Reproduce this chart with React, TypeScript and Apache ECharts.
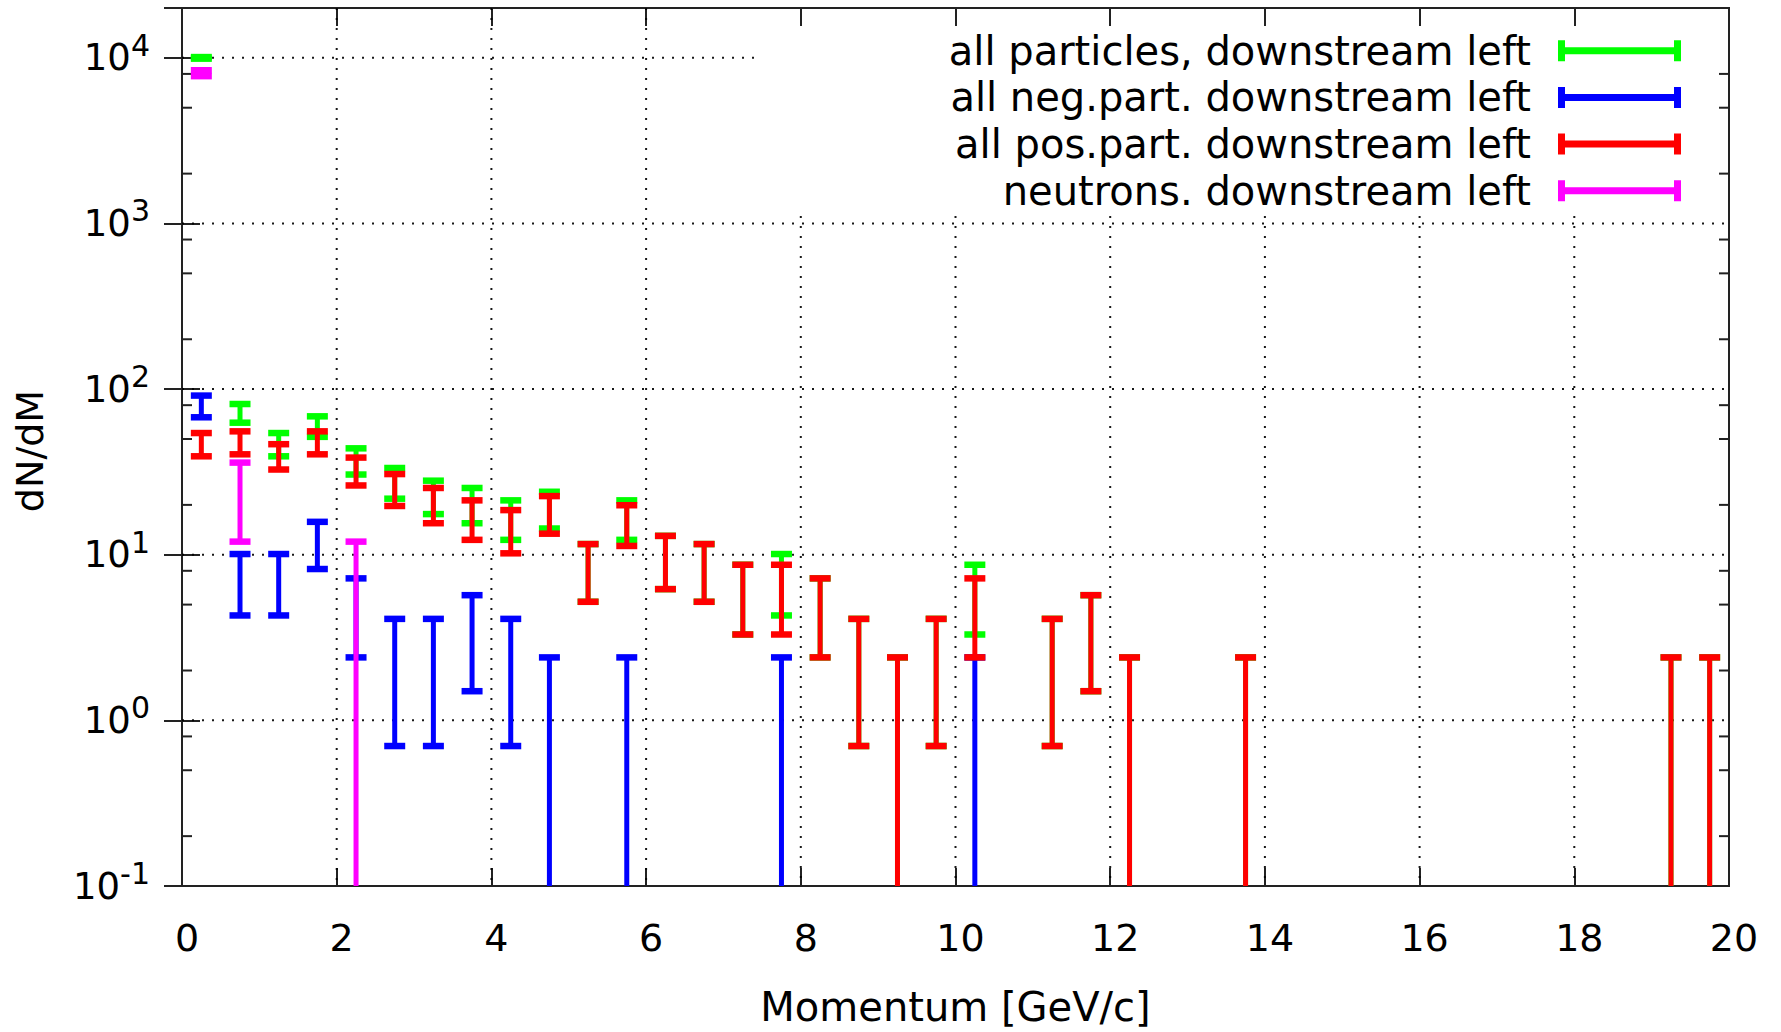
import React, { useEffect, useRef } from "react";
import * as echarts from "echarts";

const FONT = "DejaVu Sans";

// axis ranges and ticks
const X_MIN = 0;
const X_MAX = 20;
const X_STEP = 2;
const Y_MIN = 0.1;
const Y_MAX = 20000;
const gridX = [2, 4, 6, 8, 10, 12, 14, 16, 18];
const gridY = [1, 10, 100, 1000, 10000];
const minorY = [0.2, 0.5, 0.8, 2, 5, 8, 20, 50, 80, 200, 500, 800, 2000, 5000, 8000];

const seriesNames = [
  "all particles, downstream left",
  "all neg.part. downstream left",
  "all pos.part. downstream left",
  "neutrons. downstream left",
];
const seriesColors = ["#00ff00", "#0000ff", "#ff0000", "#ff00ff"];

// all particles
const allX = [0.25, 0.75, 1.25, 1.75, 2.25, 2.75, 3.25, 3.75, 4.25, 4.75, 5.25, 5.75, 6.25, 6.75, 7.25, 7.75, 8.25, 8.75, 9.25, 9.75, 10.25, 11.25, 11.75, 12.25, 13.75, 19.25, 19.75];
const allY = [10000, 72, 46.8, 60, 37.2, 27.6, 22.8, 20.4, 16.8, 19.2, 8.4, 16.8, 9.6, 8.4, 6, 7.2, 4.8, 2.4, 1.2, 2.4, 6, 2.4, 3.6, 1.2, 1.2, 1.2, 1.2];
const allErr = [110, 9.3, 7.5, 8.5, 6.7, 5.8, 5.2, 4.9, 4.5, 4.8, 3.2, 4.5, 3.4, 3.2, 2.7, 2.9, 2.4, 1.7, 1.2, 1.7, 2.7, 1.7, 2.1, 1.2, 1.2, 1.2, 1.2];

// negative particles
const negX = [0.25, 0.75, 1.25, 1.75, 2.25, 2.75, 3.25, 3.75, 4.25, 4.75, 5.75, 7.75, 10.25];
const negY = [79.5, 7.2, 7.2, 12, 4.8, 2.4, 2.4, 3.6, 2.4, 1.2, 1.2, 1.2, 1.2];
const negErr = [11.9, 2.9, 2.9, 3.8, 2.4, 1.7, 1.7, 2.1, 1.7, 1.2, 1.2, 1.2, 1.2];

// positive particles
const posX = [0.25, 0.75, 1.25, 1.75, 2.25, 2.75, 3.25, 3.75, 4.25, 4.75, 5.25, 5.75, 6.25, 6.75, 7.25, 7.75, 8.25, 8.75, 9.25, 9.75, 10.25, 11.25, 11.75, 12.25, 13.75, 19.25, 19.75];
const posY = [46.8, 48, 39.6, 48, 32.4, 25.2, 20.4, 16.8, 14.4, 18, 8.4, 15.6, 9.6, 8.4, 6, 6, 4.8, 2.4, 1.2, 2.4, 4.8, 2.4, 3.6, 1.2, 1.2, 1.2, 1.2];
const posErr = [7.5, 7.6, 6.9, 7.6, 6.2, 5.5, 4.9, 4.5, 4.2, 4.6, 3.2, 4.3, 3.4, 3.2, 2.7, 2.7, 2.4, 1.7, 1.2, 1.7, 2.4, 1.7, 2.1, 1.2, 1.2, 1.2, 1.2];

// neutrons
const neuX = [0.25, 0.75, 2.25];
const neuY = [8085, 24, 6];
const neuErr = [330, 12, 6];

const seriesData = [
  [allX, allY, allErr],
  [negX, negY, negErr],
  [posX, posY, posErr],
  [neuX, neuY, neuErr],
];

// layout (pixels)
const KEY_LEFT = 761;
const KEY_BOTTOM = 216;
const CAP = 10.5;

const AXIS_COLOR = "#222";

function supLabel(v: number): string {
  const e = Math.round(Math.log10(v));
  if (Math.abs(v / Math.pow(10, e) - 1) > 1e-6) return "";
  return "{b|10}{s|" + e + "}";
}

function errorBarRenderer(color: string) {
  return (params: any, api: any) => {
    const x = api.value(0);
    const y = api.value(1);
    const e = api.value(2);
    const hi = y + e;
    const loRaw = y - e;
    const clipped = loRaw <= Y_MIN;
    const lo = clipped ? Y_MIN : loRaw;
    const pt = api.coord([x, hi]);
    const pb = api.coord([x, lo]);
    const children: any[] = [
      { type: "line", shape: { x1: pt[0], y1: pt[1], x2: pb[0], y2: pb[1] }, style: { stroke: color, lineWidth: 5 } },
      { type: "line", shape: { x1: pt[0] - CAP, y1: pt[1], x2: pt[0] + CAP, y2: pt[1] }, style: { stroke: color, lineWidth: 6.5 } },
    ];
    if (!clipped) {
      children.push({ type: "line", shape: { x1: pb[0] - CAP, y1: pb[1], x2: pb[0] + CAP, y2: pb[1] }, style: { stroke: color, lineWidth: 6.5 } });
    }
    return { type: "group", children };
  };
}

const gridStyle = { stroke: "#000", lineWidth: 2, lineDash: [2, 8], opacity: 0.9 };

export default function App() {
  const ref = useRef<HTMLDivElement>(null);
  useEffect(() => {
    if (!ref.current) return;
    const chart = echarts.init(ref.current, undefined, { renderer: "svg" });

    const errSeries = seriesNames.map((name, i) => {
      const [xs, ys, es] = seriesData[i];
      return {
        name,
        type: "custom",
        coordinateSystem: "cartesian2d",
        xAxisIndex: 0,
        yAxisIndex: 0,
        z: 3 + i,
        itemStyle: { color: seriesColors[i] },
        renderItem: errorBarRenderer(seriesColors[i]),
        data: xs.map((x, k) => [x, ys[k], es[k]]),
      };
    });

    const option: any = {
      animation: false,
      backgroundColor: "#fff",
      textStyle: { fontFamily: FONT, color: "#000" },
      grid: {
        left: 182,
        right: 52,
        top: 8,
        bottom: 140,
        show: true,
        borderColor: AXIS_COLOR,
        borderWidth: 2,
        backgroundColor: "transparent",
      },
      legend: {
        orient: "vertical",
        align: "right",
        right: 100,
        top: 30.7,
        padding: 0,
        itemGap: 6.7,
        itemWidth: 123,
        itemHeight: 21,
        symbolKeepAspect: false,
        selectedMode: false,
        textStyle: { fontSize: 40, fontFamily: FONT, color: "#000", lineHeight: 40, padding: [0, 22, 0, 0] },
        data: seriesNames.map((n) => ({ name: n, icon: "path://M0,0h7v7h109v-7h7v21h-7v-7h-109v7h-7z" })),
      },
      xAxis: [
        {
          type: "value",
          position: "bottom",
          min: X_MIN,
          max: X_MAX,
          interval: X_STEP,
          axisLine: { show: false },
          axisTick: { show: true, inside: true, length: 18, lineStyle: { color: AXIS_COLOR, width: 2 } },
          splitLine: { show: false },
          axisLabel: { fontSize: 38, fontFamily: FONT, color: "#000", margin: 33, padding: [0, 0, 0, 10] },
          name: "Momentum [GeV/c]",
          nameLocation: "middle",
          nameGap: 101,
          nameTextStyle: { fontSize: 40, fontFamily: FONT, color: "#000" },
        },
        {
          type: "value",
          position: "top",
          min: X_MIN,
          max: X_MAX,
          interval: X_STEP,
          axisLine: { show: false },
          axisTick: { show: true, inside: true, length: 18, lineStyle: { color: AXIS_COLOR, width: 2 } },
          splitLine: { show: false },
          axisLabel: { show: false },
        },
      ],
      yAxis: [
        {
          type: "log",
          logBase: 10,
          position: "left",
          min: Y_MIN,
          max: Y_MAX,
          axisLine: { show: false },
          axisTick: { show: true, inside: true, length: 18, lineStyle: { color: AXIS_COLOR, width: 2 } },
          splitLine: { show: false },
          axisLabel: {
            margin: 32,
            formatter: supLabel,
            rich: {
              b: { fontSize: 37, fontFamily: FONT, color: "#000" },
              s: { fontSize: 30, fontFamily: FONT, color: "#000", padding: [0, 0, 25, 0] },
            },
          },
        },
        {
          type: "log",
          logBase: 10,
          position: "right",
          min: Y_MIN,
          max: Y_MAX,
          axisLine: { show: false },
          axisTick: { show: true, inside: true, length: 18, lineStyle: { color: AXIS_COLOR, width: 2 } },
          splitLine: { show: false },
          axisLabel: { show: false },
        },
      ],
      graphic: [
        {
          type: "text",
          x: 30,
          y: 451,
          rotation: Math.PI / 2,
          style: { text: "dN/dM", fontSize: 38, fontFamily: FONT, fill: "#000", align: "center", verticalAlign: "middle" },
        },
      ],
      series: [
        {
          name: "vgrid",
          type: "custom",
          coordinateSystem: "cartesian2d",
          z: 1,
          silent: true,
          renderItem: (params: any, api: any) => {
            const cs = params.coordSys;
            const x = api.coord([api.value(0), 1])[0];
            const y0 = x > KEY_LEFT ? KEY_BOTTOM : cs.y;
            return { type: "line", shape: { x1: x, y1: y0, x2: x, y2: cs.y + cs.height }, style: gridStyle };
          },
          data: gridX.map((v) => [v, 1]),
        },
        {
          name: "hgrid",
          type: "custom",
          coordinateSystem: "cartesian2d",
          z: 1,
          silent: true,
          renderItem: (params: any, api: any) => {
            const cs = params.coordSys;
            const y = api.coord([0, api.value(1)])[1];
            const x1 = y < KEY_BOTTOM ? KEY_LEFT : cs.x + cs.width;
            return { type: "line", shape: { x1: cs.x, y1: y, x2: x1, y2: y }, style: gridStyle };
          },
          data: gridY.map((v) => [0, v]),
        },
        {
          name: "minorTicks",
          type: "custom",
          coordinateSystem: "cartesian2d",
          z: 1,
          silent: true,
          renderItem: (params: any, api: any) => {
            const cs = params.coordSys;
            const y = api.coord([0, api.value(1)])[1];
            const st = { stroke: AXIS_COLOR, lineWidth: 2 };
            return {
              type: "group",
              children: [
                { type: "line", shape: { x1: cs.x, y1: y, x2: cs.x + 10, y2: y }, style: st },
                { type: "line", shape: { x1: cs.x + cs.width - 10, y1: y, x2: cs.x + cs.width, y2: y }, style: st },
              ],
            };
          },
          data: minorY.map((v) => [0, v]),
        },
        ...errSeries,
      ],
    };

    chart.setOption(option);
    return () => chart.dispose();
  }, []);

  return (
    <div
      ref={ref}
      style={{ position: "fixed", left: 0, top: 0, width: "1781px", height: "1032px", background: "#fff" }}
    />
  );
}
